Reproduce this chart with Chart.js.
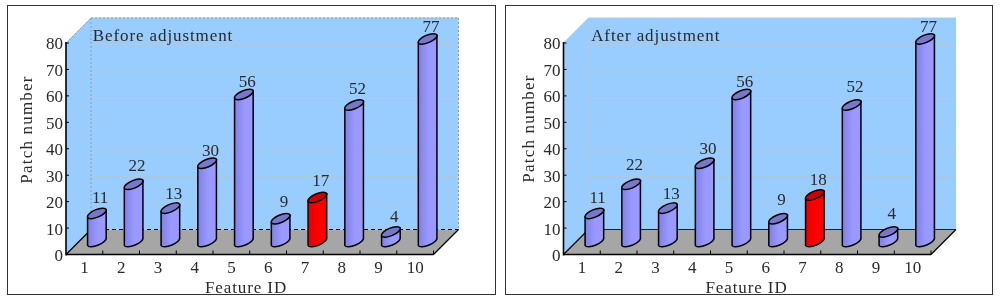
<!DOCTYPE html>
<html>
<head>
<meta charset="utf-8">
<style>
  html, body { margin: 0; background: #fff; }
  .panel { position: absolute; top: 5px; height: 288px; border: 1.5px solid #333; box-sizing: content-box; }
  #before { left: 7px; width: 487px; }
  #after { left: 505px; width: 486px; }
  canvas { display: block; }
</style>
</head>
<body>
<div class="panel" id="before"><canvas id="chartBefore"></canvas></div>
<div class="panel" id="after"><canvas id="chartAfter"></canvas></div>
<script src="https://cdn.jsdelivr.net/npm/chart.js@4/dist/chart.umd.js"></script>
<script>
const featureIds = ['1', '2', '3', '4', '5', '6', '7', '8', '9', '10'];
const patchesBefore = [11, 22, 13, 30, 56, 9, 17, 52, 4, 77];
const patchesAfter = [11, 22, 13, 30, 56, 9, 18, 52, 4, 77];
const highlightedFeature = '7';

// hand placed value labels in the original, px above the bar top
const labelLiftBefore = [21, 24, 20, 18, 18, 22, 22, 21, 20, 17];
const labelLiftAfter = [21, 25, 20, 20, 18, 24, 20, 23, 23, 17];

const FONT = '"Liberation Serif", serif';
const FONT_SIZE = 17;
const TEXT = '#2a2a2a';
const DEPTH = 25;   // 3d offset of the back wall
const BAR_LIFT = 8; // bars stand this far behind the front floor edge

const text = (ctx, str, x, y, spacing, angle, align) => {
  ctx.save();
  ctx.font = FONT_SIZE + 'px ' + FONT;
  ctx.fillStyle = TEXT;
  ctx.textAlign = align || 'center';
  ctx.textBaseline = 'middle';
  ctx.letterSpacing = spacing + 'px';
  ctx.translate(x, y);
  if (angle) ctx.rotate(angle);
  ctx.fillText(str, 0, 2); // middle baseline sits high in this font
  ctx.restore();
};

const poly = (ctx, pts) => {
  ctx.beginPath();
  pts.forEach((p, i) => i ? ctx.lineTo(p[0], p[1]) : ctx.moveTo(p[0], p[1]));
  ctx.closePath();
};

const line = (ctx, x0, y0, x1, y1, color, width, dash) => {
  ctx.save();
  ctx.strokeStyle = color;
  ctx.lineWidth = width;
  ctx.setLineDash(dash || []);
  ctx.beginPath();
  ctx.moveTo(x0, y0);
  ctx.lineTo(x1, y1);
  ctx.stroke();
  ctx.restore();
};

const roomPlugin = {
  id: 'room',
  beforeDatasetsDraw(chart, args, opts) {
    const { ctx, chartArea: a, scales } = chart;
    const d = DEPTH;

    ctx.fillStyle = '#99ccff';
    ctx.fillRect(a.left + d, a.top - d, a.width, a.height);
    poly(ctx, [[a.left, a.top], [a.left + d, a.top - d], [a.left + d, a.bottom - d], [a.left, a.bottom]]);
    ctx.fill();

    scales.y.ticks.forEach(t => {
      if (t.value === 0) return;
      const y = scales.y.getPixelForValue(t.value);
      line(ctx, a.left, y, a.left + d, y - d, '#aec9e2', 1);
      line(ctx, a.left + d, y - d, a.right + d, y - d, '#aec9e2', 1);
    });

    poly(ctx, [[a.left, a.bottom], [a.right, a.bottom], [a.right + d, a.bottom - d], [a.left + d, a.bottom - d]]);
    ctx.fillStyle = '#a6a6a6';
    ctx.fill();

    if (opts.dashedWalls) {
      const dots = [2, 2];
      line(ctx, a.left + d, a.top - d, a.right + d, a.top - d, '#999', 1, dots);
      line(ctx, a.right + d, a.top - d, a.right + d, a.bottom - d, '#999', 1, dots);
      line(ctx, a.left + d, a.top - d, a.left + d, a.bottom - d, '#999', 1, dots);
      line(ctx, a.left, a.top, a.left + d, a.top - d, '#999', 1, dots);
      line(ctx, a.left + d, a.bottom - d, a.right + d, a.bottom - d, '#000', 1.2, [4, 3]);
    } else {
      line(ctx, a.left + d, a.top - d, a.left + d, a.bottom - d, '#aec9e2', 1);
      line(ctx, a.left + d, a.bottom - d, a.right + d, a.bottom - d, '#222', 1);
    }

    line(ctx, a.left, a.bottom, a.left + d, a.bottom - d, '#000', 1.2);
    line(ctx, a.right, a.bottom, a.right + d, a.bottom - d, '#000', 1.2);
    line(ctx, a.left, a.top - 1, a.left, a.bottom + 1, '#000', 1.6);
    line(ctx, a.left, a.bottom, a.right, a.bottom, '#000', 1.6);

    scales.y.ticks.forEach(t => {
      const y = scales.y.getPixelForValue(t.value);
      line(ctx, a.left, y, a.left + 3, y, '#000', 1);
      text(ctx, String(t.value), a.left - 3, y, 0, 0, 'right');
    });
    featureIds.forEach((id, i) => {
      const x = a.left + (i + 1) * a.width / featureIds.length;
      line(ctx, x, a.bottom, x, a.bottom - 4, '#000', 1);
    });
  },
  afterDatasetsDraw(chart, args, opts) {
    const { ctx } = chart;
    const meta = chart.getDatasetMeta(0);
    meta.data.forEach((bar, i) => {
      const hot = featureIds[i] === highlightedFeature;
      const x0 = bar.x + 3.2;
      const x1 = bar.x + 21.8;
      const xm = (x0 + x1) / 2;
      const top = bar.y - BAR_LIFT;
      const bottom = bar.base - BAR_LIFT - 1;
      const rx = 10.1, ry = 3.8, tilt = -0.4;

      const fill = ctx.createLinearGradient(x0, 0, x1, 0);
      fill.addColorStop(0, hot ? '#e80000' : '#8080e4');
      fill.addColorStop(0.55, hot ? '#ff0000' : '#9999ff');
      fill.addColorStop(1, hot ? '#ff0000' : '#9999ff');

      ctx.save();
      ctx.lineWidth = 1.5;
      ctx.strokeStyle = '#000';
      ctx.lineJoin = 'round';

      // body: left side down, front curve, right side up
      ctx.beginPath();
      ctx.moveTo(x0, top);
      ctx.lineTo(x0, bottom);
      ctx.ellipse(xm, bottom - 4, rx, ry, tilt, Math.PI, 0, true);
      ctx.lineTo(x1, top - 8);
      ctx.closePath();
      ctx.fillStyle = fill;
      ctx.fill();
      ctx.stroke();

      ctx.beginPath();
      ctx.ellipse(xm, top - 4, rx, ry, tilt, 0, Math.PI * 2);
      ctx.fillStyle = hot ? '#cc0000' : '#7777cc';
      ctx.fill();
      ctx.stroke();
      ctx.restore();

      text(ctx, String(chart.data.datasets[0].data[i]), bar.x + 15.8, top - opts.labelLift[i], 0);
    });

    text(ctx, opts.caption, opts.captionX, 28.5, 0.9);
    text(ctx, 'Patch number', opts.yTitleX, opts.yTitleY, 1.2, -Math.PI / 2);
    text(ctx, 'Feature ID', opts.xTitleX, 280.5, 0.9);
  }
};

const makeChart = (canvasId, size, values, axisLeft, room) => {
  const canvas = document.getElementById(canvasId);
  canvas.width = size;
  canvas.height = 288;
  canvas.style.width = size + 'px';
  canvas.style.height = '288px';
  const yWidth = 40;
  return new Chart(canvas, {
    type: 'bar',
    data: {
      labels: featureIds,
      datasets: [{ data: values, backgroundColor: 'transparent', borderWidth: 0 }]
    },
    options: {
      responsive: false,
      animation: false,
      devicePixelRatio: 1,
      layout: { padding: { left: axisLeft - yWidth, right: size - axisLeft - 367.5, top: 37, bottom: 15.5 } },
      plugins: {
        legend: { display: false },
        tooltip: { enabled: false },
        room
      },
      scales: {
        x: {
          grid: { display: false, drawTicks: false },
          border: { display: false },
          ticks: { color: TEXT, font: { family: FONT, size: FONT_SIZE }, padding: 4, maxRotation: 0 },
          afterFit: s => { s.height = 24; }
        },
        y: {
          min: 0,
          max: 80,
          grid: { display: false, drawTicks: false },
          border: { display: false },
          // labels drawn in the plugin, chart.js centres them too high for this font
          ticks: { stepSize: 10, display: false },
          afterFit: s => { s.width = yWidth; }
        }
      }
    },
    plugins: [roomPlugin]
  });
};

makeChart('chartBefore', 487, patchesBefore, 58, {
  labelLift: labelLiftBefore, caption: 'Before adjustment', captionX: 155, dashedWalls: true,
  yTitleX: 18, yTitleY: 123.5, xTitleX: 238
});
makeChart('chartAfter', 486, patchesAfter, 57.5, {
  labelLift: labelLiftAfter, caption: 'After adjustment', captionX: 149.7, dashedWalls: false,
  yTitleX: 21.5, yTitleY: 122.5, xTitleX: 240.5
});
</script>
</body>
</html>
